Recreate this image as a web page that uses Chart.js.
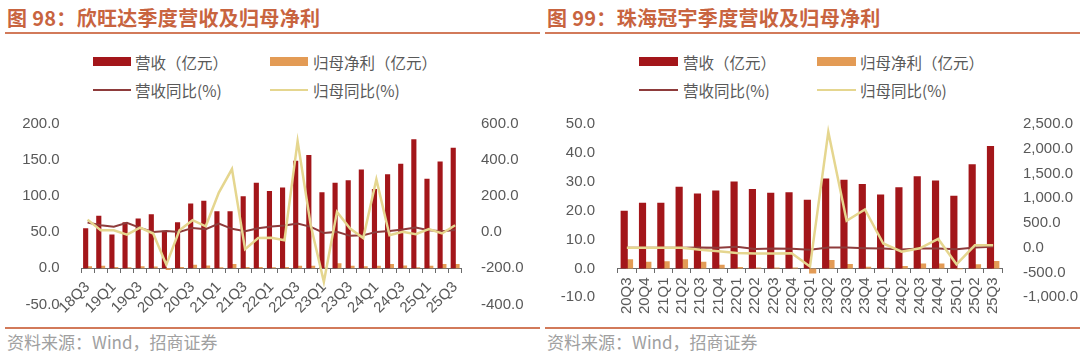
<!DOCTYPE html>
<html><head><meta charset="utf-8">
<script src="https://cdn.jsdelivr.net/npm/chart.js@4.4.0/dist/chart.umd.min.js"></script>
<style>
body{margin:0;width:1080px;height:355px;background:#fff;position:relative;overflow:hidden;font-family:"Noto Sans CJK SC","Liberation Sans",sans-serif;}
.title{position:absolute;top:6px;line-height:24px;font-size:20px;font-weight:bold;color:#C8643F;white-space:nowrap;letter-spacing:0.3px;}
.rule{position:absolute;height:2px;background:#D27A5A;}
.src{position:absolute;top:331px;line-height:21px;font-size:17px;color:#A0A0A0;white-space:nowrap;}
.lg{position:absolute;font-size:15.5px;color:#595959;white-space:nowrap;line-height:20px;}
.sw{position:absolute;}
canvas{position:absolute;}
</style></head>
<body>
<div class="title" style="left:7px">图 98：欣旺达季度营收及归母净利</div>
<div class="rule" style="left:5px;width:535px;top:32px"></div>
<div class="title" style="left:547px">图 99：珠海冠宇季度营收及归母净利</div>
<div class="rule" style="left:545px;width:535px;top:32px"></div>

<div class="sw" style="left:93px;top:57px;width:38px;height:9px;background:#A3161A"></div>
<div class="lg" style="left:135px;top:52px">营收（亿元）</div>
<div class="sw" style="left:270px;top:57px;width:38px;height:9px;background:#E39B55"></div>
<div class="lg" style="left:313px;top:52px">归母净利（亿元）</div>
<div class="sw" style="left:93px;top:89px;width:38px;height:2px;background:#8E3B3B"></div>
<div class="lg" style="left:135px;top:80px">营收同比(%)</div>
<div class="sw" style="left:270px;top:89px;width:38px;height:2px;background:#E5D68F"></div>
<div class="lg" style="left:313px;top:80px">归母同比(%)</div>

<div class="sw" style="left:639px;top:57px;width:39px;height:9px;background:#A3161A"></div>
<div class="lg" style="left:683px;top:52px">营收（亿元）</div>
<div class="sw" style="left:817px;top:57px;width:39px;height:9px;background:#E39B55"></div>
<div class="lg" style="left:860px;top:52px">归母净利（亿元）</div>
<div class="sw" style="left:639px;top:89px;width:39px;height:2px;background:#8E3B3B"></div>
<div class="lg" style="left:683px;top:80px">营收同比(%)</div>
<div class="sw" style="left:817px;top:89px;width:39px;height:2px;background:#E5D68F"></div>
<div class="lg" style="left:860px;top:80px">归母同比(%)</div>

<canvas id="c1" width="540" height="210" style="left:0;top:105px"></canvas>
<canvas id="c2" width="540" height="210" style="left:540px;top:105px"></canvas>

<div class="rule" style="left:5px;width:535px;top:327px"></div>
<div class="rule" style="left:545px;width:535px;top:327px"></div>
<div class="src" style="left:7px">资料来源：Wind，招商证券</div>
<div class="src" style="left:547px">资料来源：Wind，招商证券</div>

<script>
// ---- Chart 1: 欣旺达 ----
const cats1 = ['18Q3','18Q4','19Q1','19Q2','19Q3','19Q4','20Q1','20Q2','20Q3','20Q4','21Q1','21Q2','21Q3','21Q4','22Q1','22Q2','22Q3','22Q4','23Q1','23Q2','23Q3','23Q4','24Q1','24Q2','24Q3','24Q4','25Q1','25Q2','25Q3'];
const rev1 = [55.5,73,47,64,69,75,52,64,90,93.5,79,79,100,118.5,107,112,149,157,105.5,118.5,122,137,110,130.5,145,179,124,148,167];
const np1 = [3,3.5,2,1.5,3,2.5,-2.5,2,5,4,1.5,6,2,2,1.5,2,3.5,3.5,1,7,3.5,3,3.5,6,4,1.5,3.5,6,6];
const revYoY1 = [54,39,30,52,24,2,7,2,24,17,48,19,5,22,32,37,48,30,-4,2,-20,-17,2,7,15,26,11,5,13];
const npYoY1 = [70,11,11,-13,26,-7,-180,11,67,33,220,350,-94,-32,-30,-44,505,39,-275,113,20,-32,293,-17,2,-11,17,-7,39];
const yTicks1 = {min:-50, max:200, step:50};
const y1Ticks1 = {min:-400, max:600, step:200};

// ---- Chart 2: 珠海冠宇 ----
const cats2 = ['20Q3','20Q4','21Q1','21Q2','21Q3','21Q4','22Q1','22Q2','22Q3','22Q4','23Q1','23Q2','23Q3','23Q4','24Q1','24Q2','24Q3','24Q4','25Q1','25Q2','25Q3'];
const rev2 = [20.0,22.7,22.7,28.3,25.9,27.0,30.1,27.5,26.2,26.4,23.8,31.1,30.7,29.2,25.6,28.1,31.9,30.4,25.2,36.1,42.4];
const np2 = [3.2,2.3,2.5,3.2,2.3,1.3,0.5,0.3,0.3,0.3,-1.8,2.9,1.5,0.6,0.2,0.8,1.7,1.7,-0.3,1.4,2.6];
const revYoY2 = [0,0,0,0,6,0,20,-22,-15,-20,-42,6,6,-8,-15,-35,-15,-15,-28,6,20];
const npYoY2 = [0,0,0,0,-42,-69,-103,-115,-115,-110,-380,2340,545,775,87,-80,-10,178,-334,50,50];
const yTicks2 = {min:-10, max:50, step:10};
const y1Ticks2 = {min:-1000, max:2500, step:500};

const RED='#A3161A', ORANGE='#E39B55', MAROON='#8E3B3B', YELLOW='#E5D68F';
const TXT='#595959';
const tickFont={family:'Liberation Sans', size:15};
const fmt = v => Number(v).toLocaleString('en-US',{minimumFractionDigits:1,maximumFractionDigits:1});

function build(id, cats, rev, np, ry, ny, yt, y1t, o){
  new Chart(document.getElementById(id), {
    type:'bar',
    data:{labels:cats, datasets:[
      {type:'line', label:'归母同比(%)', data:ny, yAxisID:'y1', borderColor:YELLOW, borderWidth:2.5, pointRadius:0, tension:0, order:0},
      {type:'line', label:'营收同比(%)', data:ry, yAxisID:'y1', borderColor:MAROON, borderWidth:2, pointRadius:0, tension:0, order:1},
      {label:'营收（亿元）', data:rev, yAxisID:'y', backgroundColor:RED, categoryPercentage:0.58, barPercentage:1.35, order:2},
      {label:'归母净利（亿元）', data:np, yAxisID:'y', backgroundColor:ORANGE, categoryPercentage:0.58, barPercentage:1.35, order:3}
    ]},
    options:{
      responsive:false, animation:false, devicePixelRatio:1,
      layout:{padding:{top:o.padTop, bottom:o.padBottom, left:0, right:0}},
      plugins:{legend:{display:false}, tooltip:{enabled:false}},
      scales:{
        x:{type:'category', position:{y:0}, offset:true,
           grid:{display:true, drawOnChartArea:false, drawTicks:true, tickLength:4, color:'#6b6b6b', offset:true},
           border:{display:true, color:'#6b6b6b', width:1},
           ticks:{autoSkip:false, minRotation:o.rot, maxRotation:o.rot, padding:o.xPad, color:TXT, font:tickFont,
                  callback:(v,i)=> (i % o.every === 0) ? cats[i] : ''},
           afterFit:s=>{s.height=0; s.paddingLeft=0; s.paddingRight=0;}},
        y:{position:'left', min:yt.min, max:yt.max,
           grid:{display:false}, border:{display:false},
           ticks:{stepSize:yt.step, padding:o.lPad, color:TXT, font:tickFont, callback:fmt},
           afterFit:s=>{s.width=o.lW; s.paddingTop=0; s.paddingBottom=0;}},
        y1:{position:'right', min:y1t.min, max:y1t.max,
           grid:{display:false}, border:{display:false},
           ticks:{stepSize:y1t.step, padding:o.rPad, color:TXT, font:tickFont, callback:fmt},
           afterFit:s=>{s.width=o.rW; s.paddingTop=0; s.paddingBottom=0;}}
      }
    }
  });
}
build('c1', cats1, rev1, np1, revYoY1, npYoY1, yTicks1, y1Ticks1,
  {padTop:19, padBottom:10.6, rot:45, xPad:6, every:2, lPad:13.3, rPad:11.3, lW:81, rW:78.3});
build('c2', cats2, rev2, np2, revYoY2, npYoY2, yTicks2, y1Ticks2,
  {padTop:19, padBottom:17.7, rot:90, xPad:5, every:1, lPad:14.7, rPad:12.7, lW:77.7, rW:77.7});
</script>
</body></html>
